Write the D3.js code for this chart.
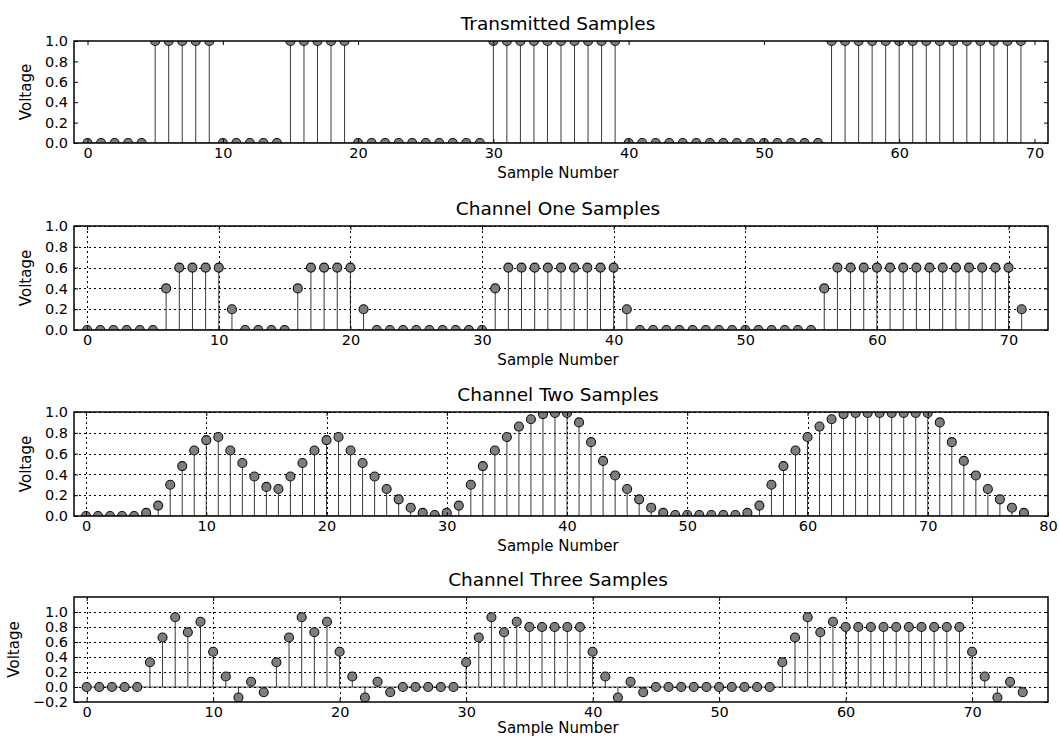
<!DOCTYPE html>
<html>
<head>
<meta charset="utf-8">
<script src="https://cdn.jsdelivr.net/npm/d3@7"></script>
<style>
  body { margin: 0; background: #fff; }
  svg { display: block; }
  text { font-family: "DejaVu Sans", sans-serif; fill: #000; }
</style>
</head>
<body>
<svg id="chart" width="1059" height="739"></svg>
<script>
// sample values
const transmitted = [
  0, 0, 0, 0, 0, 1, 1, 1, 1, 1,
  0, 0, 0, 0, 0, 1, 1, 1, 1, 1,
  0, 0, 0, 0, 0, 0, 0, 0, 0, 0,
  1, 1, 1, 1, 1, 1, 1, 1, 1, 1,
  0, 0, 0, 0, 0, 0, 0, 0, 0, 0,
  0, 0, 0, 0, 0, 1, 1, 1, 1, 1,
  1, 1, 1, 1, 1, 1, 1, 1, 1, 1
];
const channelOne = [
  0, 0, 0, 0, 0, 0, 0.4, 0.6, 0.6, 0.6,
  0.6, 0.2, 0, 0, 0, 0, 0.4, 0.6, 0.6, 0.6,
  0.6, 0.2, 0, 0, 0, 0, 0, 0, 0, 0,
  0, 0.4, 0.6, 0.6, 0.6, 0.6, 0.6, 0.6, 0.6, 0.6,
  0.6, 0.2, 0, 0, 0, 0, 0, 0, 0, 0,
  0, 0, 0, 0, 0, 0, 0.4, 0.6, 0.6, 0.6,
  0.6, 0.6, 0.6, 0.6, 0.6, 0.6, 0.6, 0.6, 0.6, 0.6,
  0.6, 0.2
];
const channelTwo = [
  0, 0, 0, 0, 0, 0.03, 0.1, 0.3, 0.48, 0.63,
  0.73, 0.76, 0.63, 0.51, 0.38, 0.28, 0.26, 0.38, 0.51, 0.63,
  0.73, 0.76, 0.63, 0.51, 0.38, 0.26, 0.16, 0.08, 0.03, 0.01,
  0.03, 0.1, 0.3, 0.48, 0.63, 0.76, 0.86, 0.93, 0.98, 0.99,
  0.99, 0.9, 0.71, 0.53, 0.39, 0.26, 0.16, 0.08, 0.03, 0.01,
  0.01, 0.01, 0.01, 0.01, 0.01, 0.03, 0.1, 0.3, 0.48, 0.63,
  0.76, 0.86, 0.93, 0.98, 0.99, 0.99, 0.99, 0.99, 0.99, 0.99,
  0.99, 0.9, 0.71, 0.53, 0.39, 0.26, 0.16, 0.08, 0.03
];
const channelThree = [
  0, 0, 0, 0, 0, 0.33, 0.66, 0.93, 0.73, 0.87,
  0.47, 0.14, -0.14, 0.07, -0.07, 0.33, 0.66, 0.93, 0.73, 0.87,
  0.47, 0.14, -0.14, 0.07, -0.07, 0, 0, 0, 0, 0,
  0.33, 0.66, 0.93, 0.73, 0.87, 0.8, 0.8, 0.8, 0.8, 0.8,
  0.47, 0.14, -0.14, 0.07, -0.07, 0, 0, 0, 0, 0,
  0, 0, 0, 0, 0, 0.33, 0.66, 0.93, 0.73, 0.87,
  0.8, 0.8, 0.8, 0.8, 0.8, 0.8, 0.8, 0.8, 0.8, 0.8,
  0.47, 0.14, -0.14, 0.07, -0.07
];

const xTicks70 = [0, 10, 20, 30, 40, 50, 60, 70];
const xTicks80 = [0, 10, 20, 30, 40, 50, 60, 70, 80];
const yTicksUnit = [0, 0.2, 0.4, 0.6, 0.8, 1.0];
const yTicksWide = [-0.2, 0, 0.2, 0.4, 0.6, 0.8, 1.0];

const titles = ['Transmitted Samples', 'Channel One Samples', 'Channel Two Samples', 'Channel Three Samples'];
const xLabel = 'Sample Number';
const yLabel = 'Voltage';

const svg = d3.select('#chart');
const left = 74, right = 1048;
const fmt = d3.format('.1f');

const panels = [
  { title: titles[0], values: transmitted, top: 41, bottom: 143, yDomain: [0, 1], yTicks: yTicksUnit, xTicks: xTicks70, grid: false },
  { title: titles[1], values: channelOne, top: 226, bottom: 330, yDomain: [0, 1], yTicks: yTicksUnit, xTicks: xTicks70, grid: true },
  { title: titles[2], values: channelTwo, top: 412, bottom: 516, yDomain: [0, 1], yTicks: yTicksUnit, xTicks: xTicks80, grid: true },
  { title: titles[3], values: channelThree, top: 597, bottom: 702, yDomain: [-0.2, 1.2], yTicks: yTicksWide, xTicks: xTicks70, grid: true }
];

function styleAxis(g) {
  g.attr('font-family', 'DejaVu Sans').attr('font-size', 14.5);
  g.select('.domain').remove();
  g.selectAll('.tick line').attr('stroke', '#000').attr('stroke-width', 1);
}

panels.forEach((p, i) => {
  const n = p.values.length;
  const x = d3.scaleLinear().domain([-1, n + 1]).range([left, right]);
  const y = d3.scaleLinear().domain(p.yDomain).range([p.bottom, p.top]);
  const g = svg.append('g').attr('class', 'panel');

  const clipId = 'clip-' + i;
  svg.append('clipPath').attr('id', clipId)
    .append('rect')
    .attr('x', left).attr('y', p.top)
    .attr('width', right - left).attr('height', p.bottom - p.top);

  const plot = g.append('g').attr('clip-path', `url(#${clipId})`);

  // stems
  plot.selectAll('line.stem')
    .data(p.values)
    .join('line')
    .attr('class', 'stem')
    .attr('x1', (d, k) => x(k)).attr('x2', (d, k) => x(k))
    .attr('y1', y(0)).attr('y2', d => y(d))
    .attr('stroke', '#3a3a3a').attr('stroke-width', 1);

  // baseline
  plot.append('line')
    .attr('x1', x(0)).attr('x2', x(n - 1))
    .attr('y1', y(0)).attr('y2', y(0))
    .attr('stroke', '#444').attr('stroke-width', 1);

  // grid
  if (p.grid) {
    const grid = plot.append('g').attr('stroke', '#000').attr('stroke-width', 1).attr('stroke-dasharray', '2,3');
    grid.selectAll('line.gx').data(p.xTicks).join('line')
      .attr('class', 'gx')
      .attr('x1', d => Math.round(x(d)) + 0.5).attr('x2', d => Math.round(x(d)) + 0.5)
      .attr('y1', p.top).attr('y2', p.bottom);
    grid.selectAll('line.gy').data(p.yTicks).join('line')
      .attr('class', 'gy')
      .attr('x1', left).attr('x2', right)
      .attr('y1', d => Math.round(y(d)) + 0.5).attr('y2', d => Math.round(y(d)) + 0.5);
  }

  // markers
  plot.selectAll('circle.mark')
    .data(p.values)
    .join('circle')
    .attr('class', 'mark')
    .attr('cx', (d, k) => x(k))
    .attr('cy', d => y(d))
    .attr('r', 4.5)
    .attr('fill', '#7e7e7e')
    .attr('stroke', '#111')
    .attr('stroke-width', 1.1);

  // axes, ticks pointing inward
  const gx = g.append('g').attr('transform', `translate(0,${p.bottom})`)
    .call(d3.axisBottom(x).tickValues(p.xTicks).tickFormat(d3.format('d')).tickSize(-4).tickPadding(4.5));
  styleAxis(gx);
  const gxt = g.append('g').attr('transform', `translate(0,${p.top})`)
    .call(d3.axisTop(x).tickValues(p.xTicks).tickFormat('').tickSize(-4));
  styleAxis(gxt);
  const gy = g.append('g').attr('transform', `translate(${left},0)`)
    .call(d3.axisLeft(y).tickValues(p.yTicks).tickFormat(fmt).tickSize(-4).tickPadding(6));
  styleAxis(gy);
  const gyr = g.append('g').attr('transform', `translate(${right},0)`)
    .call(d3.axisRight(y).tickValues(p.yTicks).tickFormat('').tickSize(-4));
  styleAxis(gyr);

  // frame
  g.append('rect')
    .attr('x', left).attr('y', p.top)
    .attr('width', right - left).attr('height', p.bottom - p.top)
    .attr('fill', 'none').attr('stroke', '#000').attr('stroke-width', 1.5);

  // labels
  g.append('text')
    .attr('x', (left + right) / 2 - 3).attr('y', p.top - 11.5)
    .attr('text-anchor', 'middle').attr('font-size', 18.5)
    .text(p.title);

  g.append('text')
    .attr('x', (left + right) / 2 - 3).attr('y', Math.min(p.bottom + 35, 733))
    .attr('text-anchor', 'middle').attr('font-size', 15)
    .text(xLabel);

  const tickLeft = left + gy.node().getBBox().x;
  const yl = tickLeft - 13.5;
  const ym = (p.top + p.bottom) / 2;
  g.append('text')
    .attr('transform', `translate(${yl},${ym}) rotate(-90)`)
    .attr('text-anchor', 'middle').attr('font-size', 15)
    .text(yLabel);
});
</script>
</body>
</html>
